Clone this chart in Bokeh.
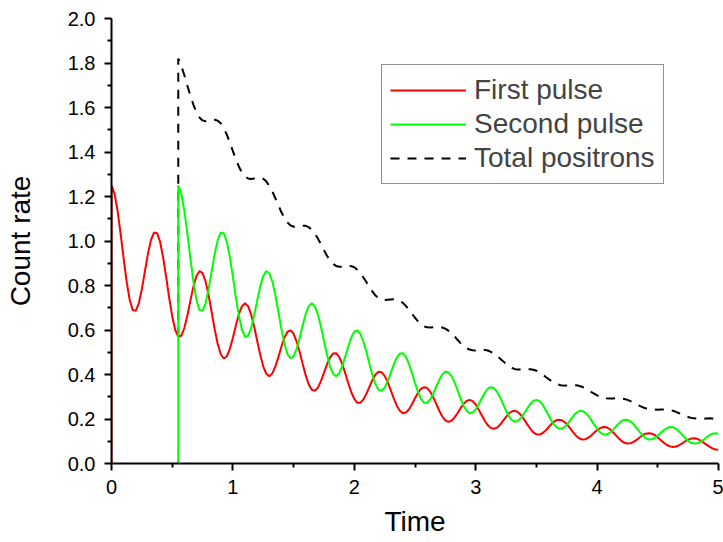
from bokeh.plotting import figure
from bokeh.models import FixedTicker, Legend, LegendItem, NumeralTickFormatter, Range1d
from bokeh.embed import file_html
from bokeh.resources import INLINE

t_step = 0.025
second_start = 0.55

# First pulse, t = 0 .. 5
first_rate = [
    1.250, 1.213, 1.136, 1.033, 0.921, 0.816, 0.735, 0.690, 0.686, 0.720,
    0.784, 0.863, 0.942, 1.004, 1.038, 1.035, 0.997, 0.927, 0.839, 0.745,
    0.662, 0.600, 0.570, 0.574, 0.609, 0.665, 0.732, 0.796, 0.843, 0.865,
    0.856, 0.818, 0.756, 0.681, 0.603, 0.537, 0.491, 0.472, 0.481, 0.515,
    0.565, 0.621, 0.672, 0.707, 0.720, 0.707, 0.670, 0.616, 0.552, 0.489,
    0.437, 0.403, 0.392, 0.405, 0.436, 0.479, 0.526, 0.566, 0.592, 0.598,
    0.583, 0.548, 0.501, 0.447, 0.396, 0.355, 0.331, 0.327, 0.341, 0.370,
    0.407, 0.445, 0.476, 0.494, 0.496, 0.479, 0.448, 0.407, 0.362, 0.321,
    0.290, 0.273, 0.273, 0.288, 0.314, 0.345, 0.376, 0.400, 0.412, 0.410,
    0.394, 0.366, 0.330, 0.293, 0.260, 0.237, 0.226, 0.229, 0.243, 0.266,
    0.293, 0.318, 0.336, 0.343, 0.339, 0.323, 0.298, 0.268, 0.237, 0.211,
    0.194, 0.187, 0.192, 0.206, 0.226, 0.248, 0.268, 0.281, 0.286, 0.280,
    0.265, 0.242, 0.217, 0.192, 0.172, 0.159, 0.156, 0.161, 0.174, 0.192,
    0.210, 0.226, 0.235, 0.237, 0.230, 0.216, 0.197, 0.176, 0.156, 0.140,
    0.131, 0.130, 0.136, 0.148, 0.163, 0.178, 0.190, 0.197, 0.196, 0.189,
    0.177, 0.160, 0.142, 0.126, 0.114, 0.108, 0.109, 0.115, 0.125, 0.138,
    0.150, 0.159, 0.164, 0.163, 0.156, 0.144, 0.130, 0.115, 0.102, 0.093,
    0.090, 0.091, 0.097, 0.106, 0.117, 0.127, 0.134, 0.136, 0.134, 0.128,
    0.117, 0.105, 0.093, 0.083, 0.077, 0.074, 0.076, 0.082, 0.090, 0.099,
    0.107, 0.112, 0.113, 0.111, 0.104, 0.095, 0.085, 0.076, 0.068, 0.063,
    0.062,
]

# Second pulse, t = 0.55 .. 5
second_rate = [
    1.250, 1.213, 1.136, 1.033, 0.921, 0.816, 0.735, 0.690, 0.686, 0.720,
    0.784, 0.863, 0.942, 1.004, 1.038, 1.035, 0.997, 0.927, 0.839, 0.745,
    0.662, 0.600, 0.570, 0.574, 0.609, 0.665, 0.732, 0.796, 0.843, 0.865,
    0.856, 0.818, 0.756, 0.681, 0.603, 0.537, 0.491, 0.472, 0.481, 0.515,
    0.565, 0.621, 0.672, 0.707, 0.720, 0.707, 0.670, 0.616, 0.552, 0.489,
    0.437, 0.403, 0.392, 0.405, 0.436, 0.479, 0.526, 0.566, 0.592, 0.598,
    0.583, 0.548, 0.501, 0.447, 0.396, 0.355, 0.331, 0.327, 0.341, 0.370,
    0.407, 0.445, 0.476, 0.494, 0.496, 0.479, 0.448, 0.407, 0.362, 0.321,
    0.290, 0.273, 0.273, 0.288, 0.314, 0.345, 0.376, 0.400, 0.412, 0.410,
    0.394, 0.366, 0.330, 0.293, 0.260, 0.237, 0.226, 0.229, 0.243, 0.266,
    0.293, 0.318, 0.336, 0.343, 0.339, 0.323, 0.298, 0.268, 0.237, 0.211,
    0.194, 0.187, 0.192, 0.206, 0.226, 0.248, 0.268, 0.281, 0.286, 0.280,
    0.265, 0.242, 0.217, 0.192, 0.172, 0.159, 0.156, 0.161, 0.174, 0.192,
    0.210, 0.226, 0.235, 0.237, 0.230, 0.216, 0.197, 0.176, 0.156, 0.140,
    0.131, 0.130, 0.136, 0.148, 0.163, 0.178, 0.190, 0.197, 0.196, 0.189,
    0.177, 0.160, 0.142, 0.126, 0.114, 0.108, 0.109, 0.115, 0.125, 0.138,
    0.150, 0.159, 0.164, 0.163, 0.156, 0.144, 0.130, 0.115, 0.102, 0.093,
    0.090, 0.091, 0.097, 0.106, 0.117, 0.127, 0.134, 0.136, 0.134,
]

# Total positrons, t = 0.55 .. 5 (value just before the jump: 0.570)
total_before_jump = 0.570
total_rate = [
    1.820, 1.787, 1.745, 1.698, 1.653, 1.612, 1.578, 1.555, 1.542, 1.538,
    1.540, 1.544, 1.545, 1.541, 1.529, 1.507, 1.478, 1.442, 1.404, 1.366,
    1.334, 1.307, 1.290, 1.281, 1.279, 1.281, 1.284, 1.285, 1.280, 1.268,
    1.248, 1.223, 1.192, 1.160, 1.129, 1.103, 1.083, 1.070, 1.064, 1.063,
    1.066, 1.068, 1.068, 1.062, 1.051, 1.034, 1.011, 0.986, 0.959, 0.934,
    0.913, 0.897, 0.888, 0.884, 0.884, 0.886, 0.888, 0.887, 0.882, 0.871,
    0.856, 0.836, 0.815, 0.792, 0.772, 0.755, 0.743, 0.737, 0.735, 0.736,
    0.737, 0.738, 0.736, 0.731, 0.722, 0.708, 0.691, 0.673, 0.655, 0.639,
    0.626, 0.616, 0.612, 0.611, 0.612, 0.613, 0.613, 0.611, 0.606, 0.597,
    0.586, 0.572, 0.556, 0.541, 0.528, 0.518, 0.512, 0.509, 0.508, 0.508,
    0.510, 0.510, 0.508, 0.502, 0.495, 0.484, 0.472, 0.460, 0.447, 0.437,
    0.429, 0.424, 0.422, 0.422, 0.423, 0.424, 0.424, 0.421, 0.417, 0.410,
    0.401, 0.390, 0.380, 0.370, 0.362, 0.356, 0.352, 0.350, 0.351, 0.352,
    0.352, 0.352, 0.349, 0.345, 0.339, 0.331, 0.322, 0.314, 0.306, 0.299,
    0.295, 0.293, 0.292, 0.292, 0.293, 0.293, 0.292, 0.290, 0.286, 0.280,
    0.274, 0.266, 0.259, 0.253, 0.248, 0.244, 0.243, 0.243, 0.242, 0.243,
    0.243, 0.242, 0.241, 0.237, 0.232, 0.226, 0.220, 0.214, 0.209, 0.205,
    0.203, 0.202, 0.201, 0.201, 0.202, 0.203, 0.202, 0.199, 0.196,
]

x_ticks = [0, 1, 2, 3, 4, 5]
x_minor = [0.5, 1.5, 2.5, 3.5, 4.5]
y_ticks = [0.0, 0.2, 0.4, 0.6, 0.8, 1.0, 1.2, 1.4, 1.6, 1.8, 2.0]
y_minor = [0.1, 0.3, 0.5, 0.7, 0.9, 1.1, 1.3, 1.5, 1.7, 1.9]

# ---- series assembly (each pulse switches on with a jump from zero) ----
first_t = [0.0] + [i * t_step for i in range(len(first_rate))]
first_y = [0.0] + first_rate
second_t = [second_start] + [second_start + k * t_step for k in range(len(second_rate))]
second_y = [0.0] + second_rate
total_t = [second_start] + [second_start + k * t_step for k in range(len(total_rate))]
total_y = [total_before_jump] + total_rate

FONT = "Liberation Sans"
p = figure(width=723, height=542, x_range=Range1d(0, 5), y_range=Range1d(0, 2),
           output_backend="svg", toolbar_location=None,
           min_border_left=111, min_border_right=5, min_border_top=18, min_border_bottom=79)
p.outline_line_color = None
p.grid.visible = False
p.background_fill_color = "white"
p.border_fill_color = "white"

r_tot = p.line(total_t, total_y, line_color="black", line_width=2, line_dash="9 8")
r_red = p.line(first_t, first_y, line_color="#ff0000", line_width=2)
r_grn = p.line(second_t, second_y, line_color="#00ff00", line_width=2)

p.xaxis.ticker = FixedTicker(ticks=x_ticks, minor_ticks=x_minor)
p.yaxis.ticker = FixedTicker(ticks=y_ticks, minor_ticks=y_minor)
p.yaxis.formatter = NumeralTickFormatter(format="0.0")
for ax in (p.xaxis, p.yaxis):
    ax.axis_line_width = 2
    ax.major_tick_line_width = 2
    ax.minor_tick_line_width = 2
    ax.major_tick_in = 0
    ax.major_tick_out = 7
    ax.minor_tick_in = 0
    ax.minor_tick_out = 4
    ax.major_label_text_font = FONT
    ax.major_label_text_font_size = "20px"
    ax.major_label_text_color = "black"
    ax.axis_label_text_font = FONT
    ax.axis_label_text_font_size = "28px"
    ax.axis_label_text_font_style = "normal"
    ax.axis_label_text_color = "black"
    ax.major_label_standoff = 9
p.xaxis.axis_label = "Time"
p.yaxis.axis_label = "Count rate"
p.xaxis.axis_label_standoff = 9
p.yaxis.axis_label_standoff = 29

legend = Legend(items=[LegendItem(label="First pulse", renderers=[r_red]),
                       LegendItem(label="Second pulse", renderers=[r_grn]),
                       LegendItem(label="Total positrons", renderers=[r_tot])],
                location=(270, 279))
legend.label_text_font = FONT
legend.label_text_font_size = "28px"
legend.padding = 8
legend.margin = 0
legend.spacing = 0
legend.label_height = 34
legend.glyph_height = 34
legend.glyph_width = 76
legend.label_standoff = 8
legend.border_line_color = "#222222"
legend.border_line_width = 1.5
legend.background_fill_alpha = 1
p.add_layout(legend)

open("out.html", "w").write(file_html(p, INLINE))
